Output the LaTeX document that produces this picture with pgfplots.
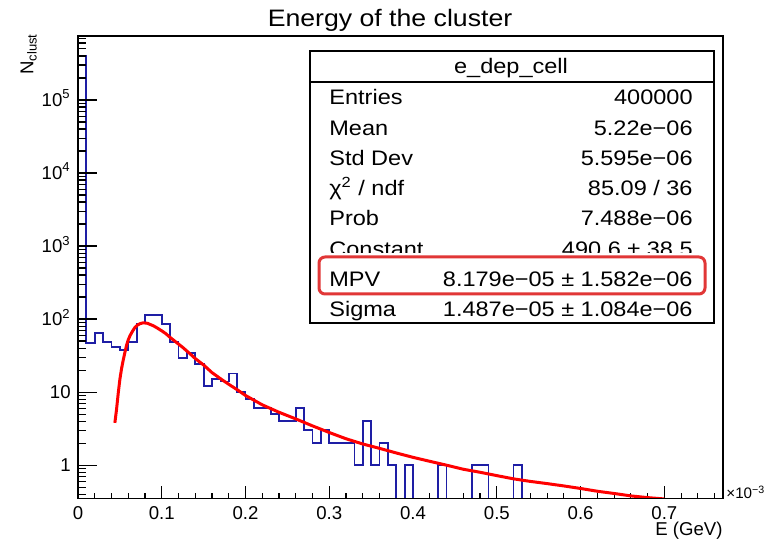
\documentclass[border=0pt]{standalone}
\usepackage{pgfplots}
\pgfplotsset{compat=1.18}
\usepackage{fontspec}
\setmainfont{Liberation Sans}[FakeStretch=1.12]
\newfontfamily\plainfont{Liberation Sans}
\definecolor{histblue}{RGB}{30,30,165}
\definecolor{boxred}{RGB}{225,55,55}
\newcommand{\tickfont}{\plainfont\fontsize{9.3bp}{11bp}\selectfont}
\newcommand{\statfont}{\fontsize{10.5bp}{12bp}\selectfont}
\begin{document}
\begin{tikzpicture}
\begin{scope}[x=0.5bp,y=-0.5bp,shift={(-39bp,249.25bp)}]
\useasboundingbox (0,0) rectangle (784,542);
\end{scope}
% axis with x ticks and the plots
\begin{axis}[
  at={(0,0)}, anchor=south west,
  scale only axis, width=322.5bp, height=231.25bp,
  xmin=0, xmax=0.77, ymin=0.35, ymax=7.5e5, ymode=log,
  axis line style={line width=0.6bp},
  xtick={0,0.1,0.2,0.3,0.4,0.5,0.6,0.7},
  xticklabels={0,0.1,0.2,0.3,0.4,0.5,0.6,0.7},
  minor xtick={0.02,0.04,0.06,0.08,0.12,0.14,0.16,0.18,0.22,0.24,0.26,0.28,0.32,0.34,0.36,0.38,0.42,0.44,0.46,0.48,0.52,0.54,0.56,0.58,0.62,0.64,0.66,0.68,0.72,0.74,0.76},
  ytick=\empty,
  xtick pos=left,
  tick align=inside,
  major tick length=6.2bp, minor tick length=2.6bp,
  tick style={line width=0.6bp, black},
  xticklabel style={font=\tickfont, anchor=base, yshift=-10.4bp, inner sep=0pt},
]
\addplot[const plot, histblue, line width=0.9bp] coordinates {
(0,0.1) (0,398000) (0.01,47) (0.02,65) (0.03,49) (0.04,42) (0.05,38) (0.06,49)
(0.07,87) (0.08,113) (0.09,113) (0.10,86) (0.11,48) (0.12,29) (0.13,34) (0.14,24)
(0.15,12) (0.16,15) (0.17,14) (0.18,18) (0.19,10) (0.20,8) (0.21,6) (0.22,6)
(0.23,5) (0.24,4) (0.25,4) (0.26,6) (0.27,3) (0.28,2) (0.29,3) (0.30,2) (0.31,2)
(0.32,2) (0.33,1) (0.34,4) (0.35,1) (0.36,2) (0.37,1) (0.38,0.1) (0.39,1)
(0.40,0.1) (0.41,0.1) (0.42,0.1) (0.43,1) (0.44,0.1) (0.45,0.1) (0.46,0.1)
(0.47,1) (0.48,1) (0.49,0.1) (0.50,0.1) (0.51,0.1) (0.52,1) (0.53,0.1)
};
\addplot[red, line width=1.5bp, line join=round] coordinates {
(0.044,3.8) (0.046,5.8) (0.048,9.6) (0.050,15.0) (0.052,21.0) (0.054,27.5)
(0.056,35) (0.058,44) (0.060,52) (0.062,59) (0.065,68) (0.068,77) (0.071,83)
(0.074,86.5) (0.077,88.4) (0.0785,88.6) (0.080,88.4) (0.083,87.5) (0.086,84.5)
(0.090,81) (0.095,75) (0.100,69) (0.105,63) (0.110,56) (0.115,50.5) (0.120,45.5)
(0.125,41) (0.130,36.5) (0.135,32.5) (0.140,28.8) (0.150,23.5) (0.160,18.5)
(0.170,15.3) (0.180,12.8) (0.190,10.8) (0.200,9.0) (0.220,6.7) (0.240,5.3)
(0.260,4.3) (0.280,3.45) (0.300,2.8) (0.320,2.3) (0.340,1.95) (0.360,1.70)
(0.380,1.47) (0.400,1.28) (0.420,1.13) (0.440,1.00) (0.460,0.88) (0.480,0.80)
(0.500,0.72) (0.520,0.65) (0.540,0.60) (0.560,0.56) (0.580,0.52) (0.600,0.48)
(0.620,0.44) (0.640,0.41) (0.660,0.38) (0.680,0.36) (0.700,0.345)
};
\end{axis}
% axis with y ticks
\begin{axis}[
  at={(0,0)}, anchor=south west,
  scale only axis, width=322.5bp, height=231.25bp,
  xmin=0, xmax=0.77, ymin=0.35, ymax=7.5e5, ymode=log,
  axis line style={line width=0.6bp},
  xtick=\empty,
  ytick={1,10,100,1000,10000,100000},
  yticklabels={1,10,10\textsuperscript{2},10\textsuperscript{3},10\textsuperscript{4},10\textsuperscript{5}},
  minor ytick={0.4,0.5,0.6,0.7,0.8,0.9,2,3,4,5,6,7,8,9,20,30,40,50,60,70,80,90,200,300,400,500,600,700,800,900,2000,3000,4000,5000,6000,7000,8000,9000,20000,30000,40000,50000,60000,70000,80000,90000,200000,300000,400000,500000,600000,700000},
  ytick pos=left,
  tick align=inside,
  major tick length=9.5bp, minor tick length=4.2bp,
  tick style={line width=0.6bp, black},
  yticklabel style={font=\tickfont, anchor=base east, inner sep=0pt, xshift=-3.5bp, yshift=-3.3bp},
]
\addplot[draw=none] coordinates {(0.1,1)};
\end{axis}
\begin{scope}[x=0.5bp,y=-0.5bp,shift={(-39bp,249.25bp)}]
\node[anchor=base, inner sep=0pt, font=\fontsize{11.9bp}{14bp}\selectfont] at (390,27) {Energy of the cluster};
\node[rotate=90, anchor=base east, inner sep=0pt, font=\tickfont] at (33.3,33) {N\textsubscript{clust}};
\node[anchor=base east, inner sep=0pt, font=\tickfont] at (723,536) {E (GeV)};
\node[anchor=base west, inner sep=0pt, font=\plainfont\fontsize{7.6bp}{9bp}\selectfont] at (726,499) {×10\textsuperscript{−3}};
% stats box
\draw[line width=0.7bp, fill=white] (310,51) rectangle (714,323);
\draw[line width=0.7bp] (310,82) -- (714,82);
\node[anchor=base, inner sep=0pt, font=\statfont] at (511,73.3) {e\_dep\_cell};
\begin{scope}[every node/.style={inner sep=0pt, font=\statfont}]
\node[anchor=base west] at (329,105) {Entries};
\node[anchor=base east] at (693,105) {400000};
\node[anchor=base west] at (329,135.2) {Mean};
\node[anchor=base east] at (693,135.2) {5.22e−06};
\node[anchor=base west] at (329,165.5) {Std Dev};
\node[anchor=base east] at (693,165.5) {5.595e−06};
\node[anchor=base west] at (329,195.7) {χ\textsuperscript{2} / ndf};
\node[anchor=base east] at (693,195.7) {85.09 / 36};
\node[anchor=base west] at (329,226) {Prob};
\node[anchor=base east] at (693,226) {7.488e−06};
\node[anchor=base west] at (329,256.2) {Constant};
\node[anchor=base east] at (693,256.2) {490.6 ± 38.5};
\fill[white] (316,253) rectangle (708,297);
\draw[boxred, line width=1.5bp, rounded corners=3bp] (319,257) rectangle (705,294);
\node[anchor=base west] at (329,286.4) {MPV};
\node[anchor=base east] at (693,286.4) {8.179e−05 ± 1.582e−06};
\node[anchor=base west] at (329,316.7) {Sigma};
\node[anchor=base east] at (693,316.7) {1.487e−05 ± 1.084e−06};
\end{scope}
\end{scope}
\end{tikzpicture}
\end{document}
